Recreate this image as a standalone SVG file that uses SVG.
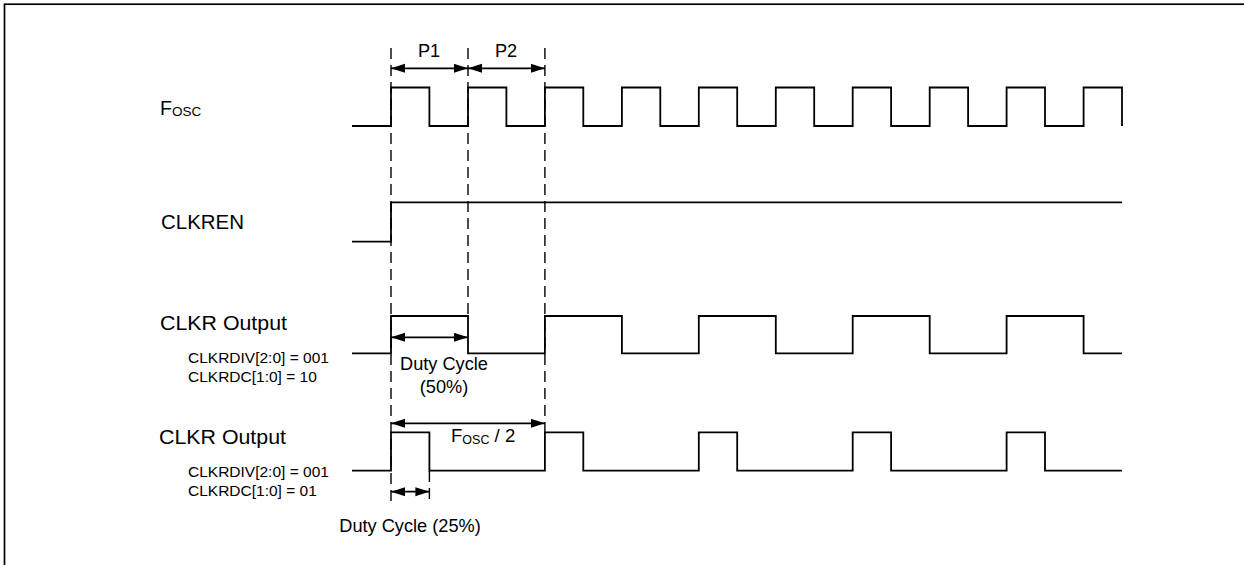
<svg xmlns="http://www.w3.org/2000/svg" width="1244" height="565" viewBox="0 0 1244 565">
<style>
.w{fill:none;stroke:#000;stroke-width:1.8;stroke-linejoin:miter;stroke-linecap:butt}
.d{fill:none;stroke:#000;stroke-width:1.4;stroke-dasharray:11 6}
.a{fill:none;stroke:#000;stroke-width:1.7;marker-start:url(#ah);marker-end:url(#ah)}
text{font-family:"Liberation Sans",Arial,Helvetica,sans-serif;fill:#000}
.lb{font-size:19.5px}
.sm{font-size:15.5px}
.dl{font-size:18.2px;text-anchor:middle}
</style>
<defs>
<marker id="ah" markerUnits="userSpaceOnUse" markerWidth="14" markerHeight="10" refX="14" refY="4.5" orient="auto-start-reverse">
<path d="M0,0 L14,4.5 L0,9 z" fill="#000"/>
</marker>
</defs>
<rect x="4.5" y="4.2" width="1300" height="600" fill="#fff" stroke="#000" stroke-width="1.7"/>

<g id="connectors">
<line class="d" x1="391" y1="48" x2="391" y2="502"/>
<line class="d" x1="468" y1="48" x2="468" y2="316"/>
<line class="d" x1="544.9" y1="48" x2="544.9" y2="432"/>
<line class="d" x1="429.4" y1="471" x2="429.4" y2="502" stroke-dasharray="11 5"/>
<line class="a" x1="391" y1="68.3" x2="468" y2="68.3"/>
<line class="a" x1="468" y1="68.3" x2="544.9" y2="68.3"/>
<line class="a" x1="391" y1="337.3" x2="468" y2="337.3"/>
<line class="a" x1="391" y1="423.3" x2="544.9" y2="423.3"/>
<line class="a" x1="391" y1="491.7" x2="429.4" y2="491.7"/>
</g>

<g id="fosc">
<text class="lb" x="160" y="115">F<tspan font-size="13.5px" dy="1">OSC</tspan></text>
<path class="w" d="M352,126 H391 V87.5 H429.4 V126 H468 V87.5 H506.4 V126 H544.9 V87.5 H583.3 V126 H621.9 V87.5 H660.3 V126 H698.8 V87.5 H737.2 V126 H775.8 V87.5 H814.2 V126 H852.7 V87.5 H891.1 V126 H929.7 V87.5 H968.1 V126 H1006.6 V87.5 H1045 V126 H1083.6 V87.5 H1122 V126"/>
</g>

<g id="clkren">
<text class="lb" x="161" y="229" textLength="83" lengthAdjust="spacingAndGlyphs">CLKREN</text>
<path class="w" d="M352,241.7 H391 V202.3 H1122"/>
</g>

<g id="clkr50">
<text class="lb" x="160" y="330" textLength="127" lengthAdjust="spacingAndGlyphs">CLKR Output</text>
<text class="sm" x="188" y="363.3">CLKRDIV[2:0] = 001</text>
<text class="sm" x="188" y="381.7">CLKRDC[1:0] = 10</text>
<path class="w" d="M352,353.3 H391 V316 H468 V353.3 H544.9 V316 H621.9 V353.3 H698.8 V316 H775.8 V353.3 H852.7 V316 H929.7 V353.3 H1006.6 V316 H1083.6 V353.3 H1122"/>
</g>

<g id="clkr25">
<text class="lb" x="159" y="444.3" textLength="127" lengthAdjust="spacingAndGlyphs">CLKR Output</text>
<text class="sm" x="188" y="476.7">CLKRDIV[2:0] = 001</text>
<text class="sm" x="188" y="495.7">CLKRDC[1:0] = 01</text>
<path class="w" d="M352,470.7 H391 V432.3 H429.4 V470.7 H544.9 V432.3 H583.3 V470.7 H698.8 V432.3 H737.2 V470.7 H852.7 V432.3 H891.1 V470.7 H1006.6 V432.3 H1045 V470.7 H1122"/>
</g>

<g id="labels">
<text class="dl" x="429" y="57">P1</text>
<text class="dl" x="506" y="57">P2</text>
<text class="dl" x="444" y="369.5">Duty Cycle</text>
<text class="dl" x="444" y="393">(50%)</text>
<text x="451" y="442.3" font-size="18.6px">F<tspan font-size="12.5px" dy="1.7">OSC</tspan><tspan dy="-1.7"> / 2</tspan></text>
<text class="dl" x="410" y="531.7">Duty Cycle (25%)</text>
</g>
</svg>
